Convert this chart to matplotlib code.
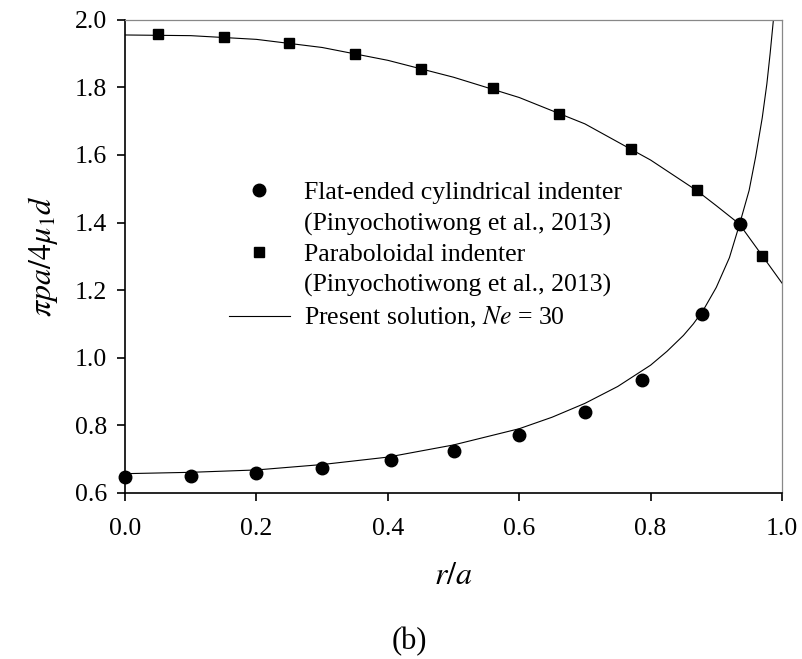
import matplotlib
matplotlib.use("Agg")
import matplotlib.pyplot as plt
from matplotlib.lines import Line2D
from matplotlib.ticker import FormatStrFormatter

plt.rcParams['font.family'] = ['Liberation Serif', 'DejaVu Serif']
plt.rcParams['mathtext.fontset'] = 'stix'

# data
flat_r = [0.0, 0.1, 0.2, 0.3, 0.405, 0.5, 0.6, 0.7, 0.787, 0.878, 0.936]
flat_p = [0.648, 0.651, 0.659, 0.673, 0.697, 0.725, 0.771, 0.839, 0.934, 1.13, 1.397]

para_r = [0.05, 0.15, 0.25, 0.35, 0.45, 0.56, 0.66, 0.77, 0.87, 0.97]
para_p = [1.958, 1.950, 1.930, 1.900, 1.855, 1.797, 1.720, 1.617, 1.495, 1.302]

# present solution curves (Ne = 30)
sol_flat_r = [0.0, 0.1, 0.2, 0.3, 0.4, 0.5, 0.6, 0.65, 0.7, 0.75, 0.8, 0.825, 0.85,
              0.865, 0.88, 0.9, 0.92, 0.935, 0.95, 0.96, 0.97, 0.977, 0.982, 0.987]
sol_flat_p = [0.657, 0.661, 0.668, 0.684, 0.706, 0.742, 0.790, 0.824, 0.865, 0.915,
              0.978, 1.019, 1.066, 1.100, 1.140, 1.208, 1.296, 1.392, 1.495, 1.595,
              1.710, 1.810, 1.900, 2.0]

sol_para_r = [0.0, 0.1, 0.2, 0.3, 0.4, 0.5, 0.6, 0.7, 0.77, 0.8, 0.87, 0.9, 0.935,
              0.97, 1.0]
sol_para_p = [1.955, 1.953, 1.942, 1.918, 1.880, 1.830, 1.770, 1.692, 1.617, 1.585,
              1.495, 1.450, 1.396, 1.302, 1.221]

fig = plt.figure(figsize=(8.02, 6.59), dpi=100)
ax = fig.add_axes([0.156, 0.252, 0.819, 0.718])

ax.plot(sol_flat_r, sol_flat_p, color='black', lw=0.8)
ax.plot(sol_para_r, sol_para_p, color='black', lw=0.8)
ax.plot(flat_r, flat_p, 'o', color='black', ms=9, clip_on=False, zorder=5)
ax.plot(para_r, para_p, 's', color='black', ms=7.5, clip_on=False, zorder=5)

ax.set_xlim(0, 1.0)
ax.set_ylim(0.6, 2.0)
ax.set_xticks([0.0, 0.2, 0.4, 0.6, 0.8, 1.0])
ax.set_yticks([0.6, 0.8, 1.0, 1.2, 1.4, 1.6, 1.8, 2.0])
ax.xaxis.set_major_formatter(FormatStrFormatter('%.1f'))
ax.yaxis.set_major_formatter(FormatStrFormatter('%.1f'))
ax.tick_params(direction='out', length=6, width=1.2, labelsize=18.5)
ax.tick_params(axis='x', pad=12)
ax.tick_params(axis='y', pad=7)
ax.tick_params(top=False, right=False)
for s in ['top', 'right']:
    ax.spines[s].set_color('#888888')
    ax.spines[s].set_linewidth(0.9)
for s in ['left', 'bottom']:
    ax.spines[s].set_linewidth(1.2)

ax.set_xlabel(r'$r/a$', fontsize=23, labelpad=16)
ax.set_ylabel(r'$\pi pa/4\mu_1 d$', fontsize=23, labelpad=11)

blank = Line2D([], [], linestyle='none')
handles = [
    Line2D([], [], marker='o', color='black', linestyle='none', ms=9),
    blank,
    Line2D([], [], marker='s', color='black', linestyle='none', ms=7.5),
    blank,
    Line2D([], [], color='black', lw=0.8),
]
labels = [
    'Flat-ended cylindrical indenter',
    '(Pinyochotiwong et al., 2013)',
    'Paraboloidal indenter',
    '(Pinyochotiwong et al., 2013)',
    r'Present solution, $Ne$ = 30',
]
ax.legend(handles, labels, loc='upper left', bbox_to_anchor=(0.142, 0.68),
          frameon=False, fontsize=18.5, handlelength=2.4, handletextpad=0.55,
          labelspacing=0.3, borderaxespad=0)

fig.text(0.511, 0.027, '(b)', fontsize=22, ha='center', va='center')

fig.savefig('out.png', dpi=100)
